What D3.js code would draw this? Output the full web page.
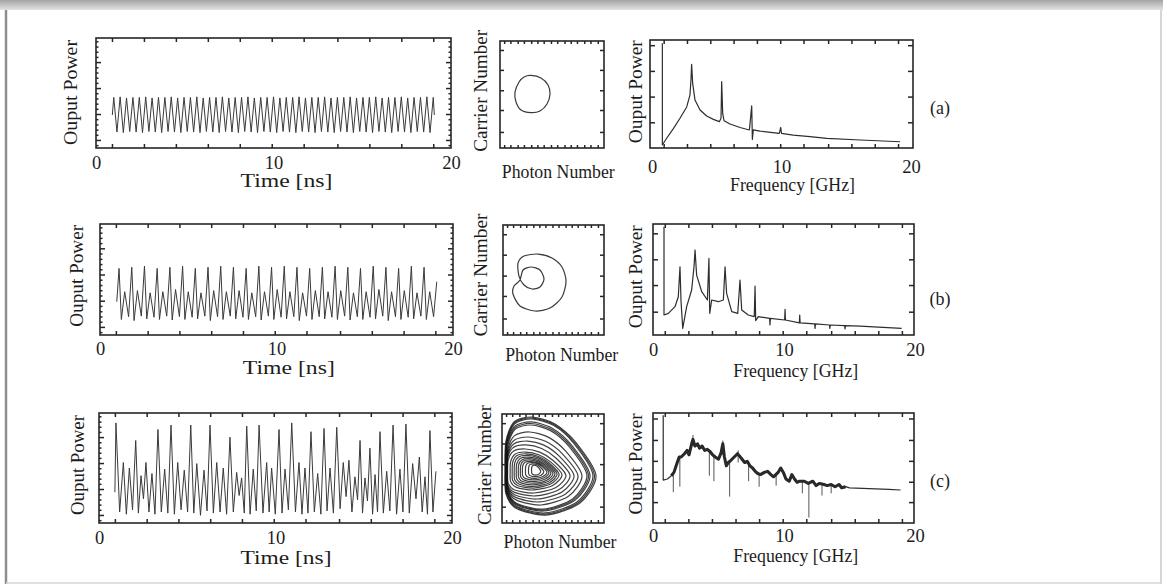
<!DOCTYPE html>
<html><head><meta charset="utf-8">
<script src="https://cdn.jsdelivr.net/npm/d3@7"></script>
<style>
body{margin:0;background:#fff;}
svg{display:block;}
text{font-family:"Liberation Serif","Times New Roman",serif;fill:#1c1c1c;}
</style>
</head><body>
<svg id="c" width="1163" height="587"></svg>
<script>
// ---------------- DATA ----------------
// axis ticks / labels
const timeTicks = [0.9,2.7,4.5,6.3,8.1,9.9,11.7,13.6,15.4,17.2,19.0];
const axisLabels = [0,10,20];
const powerMajor = [0.073,0.309,0.545,0.781];
const powerMinor = [0.026,0.120,0.167,0.214,0.262,0.356,0.403,0.450,0.498,0.592,0.639,0.686,0.734,0.828,0.875,0.922,0.970];
const phaseXTicks = [0.04,0.10,0.17,0.23,0.30,0.36,0.42,0.49,0.55,0.62,0.68,0.74,0.81,0.87,0.94];
const phaseYTicks = [0.15,0.355,0.54,0.73,0.916];
const specYTicksA = [0.238,0.476,0.714,0.952];
const specYTicksB = [0.21,0.45,0.682,0.916];
const specYTicksC = [0.19,0.375,0.565,0.755,0.95];
const rowTags = ["(a)","(b)","(c)"];

// (a) time trace: period-1 oscillation
const aT = [0.92,1.00,1.18,1.36,1.54,1.72,1.90,2.08,2.26,2.44,2.62,2.80,2.98,3.16,3.34,3.52,3.70,3.88,4.06,4.24,4.42,4.60,4.78,4.96,5.14,5.32,5.50,5.68,5.86,6.04,6.22,6.40,6.58,6.76,6.94,7.12,7.30,7.48,7.66,7.84,8.02,8.20,8.38,8.56,8.74,8.92,9.10,9.28,9.46,9.64,9.82,10.00,10.18,10.36,10.54,10.72,10.90,11.08,11.26,11.44,11.62,11.80,11.98,12.16,12.34,12.52,12.70,12.88,13.06,13.24,13.42,13.60,13.78,13.96,14.14,14.32,14.50,14.68,14.86,15.04,15.22,15.40,15.58,15.76,15.94,16.12,16.30,16.48,16.66,16.84,17.02,17.20,17.38,17.56,17.74,17.92,18.10,18.28,18.46,18.64,18.82,19.00,19.06];
const aV = [0.30,
 0.46,0.145,0.465,0.14,0.455,0.15,0.46,0.145,0.46,0.14,
 0.465,0.15,0.455,0.145,0.46,0.14,0.46,0.15,0.465,0.145,
 0.455,0.14,0.46,0.15,0.46,0.145,0.465,0.14,0.455,0.15,
 0.46,0.145,0.46,0.14,0.465,0.15,0.455,0.145,0.46,0.14,
 0.46,0.15,0.465,0.145,0.455,0.14,0.46,0.15,0.46,0.145,
 0.465,0.14,0.455,0.15,0.46,0.145,0.46,0.14,0.465,0.15,
 0.455,0.145,0.46,0.14,0.46,0.15,0.465,0.145,0.455,0.14,
 0.46,0.15,0.46,0.145,0.465,0.14,0.455,0.15,0.46,0.145,
 0.46,0.14,0.465,0.15,0.455,0.145,0.46,0.14,0.46,0.15,
 0.465,0.145,0.455,0.14,0.46,0.15,0.46,0.145,0.465,0.14,
 0.46, 0.30];

// (b) time trace: period-2
const bPeakT = [1.08,1.80,2.52,3.24,3.96,4.68,5.40,6.12,6.84,7.56,8.28,9.00,9.72,10.44,11.16,11.88,12.60,13.32,14.04,14.76,15.48,16.20,16.92,17.64,18.36,19.08];
const bPeakV = [0.60,0.61,0.62,0.60,0.61,0.62,0.60,0.61,0.62,0.61,0.60,0.62,0.61,0.62,0.61,0.60,0.61,0.62,0.61,0.60,0.62,0.61,0.60,0.62,0.61,0.48];
const bMidT = [0.95,1.40,2.12,2.84,3.56,4.28,5.00,5.72,6.44,7.16,7.88,8.60,9.32,10.04,10.76,11.48,12.20,12.92,13.64,14.36,15.08,15.80,16.52,17.24,17.96,18.68];
const bMidV = [0.30,0.39,0.40,0.38,0.39,0.41,0.39,0.38,0.40,0.39,0.40,0.38,0.39,0.41,0.39,0.38,0.40,0.39,0.40,0.38,0.39,0.41,0.39,0.40,0.38,0.39];
const bLowT = [1.21,1.62,1.93,2.34,2.65,3.06,3.37,3.78,4.09,4.50,4.81,5.22,5.53,5.94,6.25,6.66,6.97,7.38,7.69,8.10,8.41,8.82,9.13,9.54,9.85,10.26,10.57,10.98,11.29,11.70,12.01,12.42,12.73,13.14,13.45,13.86,14.17,14.58,14.89,15.30,15.61,16.02,16.33,16.74,17.05,17.46,17.77,18.18,18.49,18.90];
const bLowV = [0.14,0.165,0.13,0.17,0.145,0.16,0.14,0.17,0.135,0.165,
 0.14,0.16,0.145,0.17,0.13,0.165,0.14,0.17,0.145,0.16,
 0.14,0.165,0.135,0.17,0.14,0.16,0.145,0.165,0.13,0.17,
 0.14,0.165,0.145,0.16,0.14,0.17,0.135,0.165,0.14,0.16,
 0.145,0.17,0.13,0.165,0.14,0.16,0.145,0.17,0.14,0.165];

// (c) time trace: chaotic pulsing
const cPeakT = [0.96,1.38,1.72,2.08,2.38,2.66,3.00,3.34,3.72,4.08,4.46,4.83,5.20,5.54,5.95,6.29,6.67,7.04,7.42,7.80,8.08,8.37,8.74,9.07,9.50,9.78,10.20,10.54,10.92,11.33,11.67,12.01,12.39,12.75,13.09,13.47,13.84,14.16,14.50,14.79,15.07,15.35,15.64,15.92,16.30,16.66,17.05,17.39,17.77,18.15,18.47,18.75,19.09];
const cPeakV = [0.91,0.55,0.50,0.75,0.43,0.55,0.45,0.85,0.49,0.89,0.55,0.48,0.89,0.54,0.48,0.89,0.55,0.50,0.78,0.46,0.41,0.88,0.49,0.89,0.55,0.50,0.85,0.49,0.91,0.55,0.50,0.83,0.45,0.86,0.50,0.87,0.55,0.57,0.42,0.75,0.41,0.68,0.44,0.83,0.47,0.89,0.49,0.90,0.54,0.60,0.42,0.84,0.47];
const cLowT = [0.90,1.17,1.55,1.90,2.23,2.52,2.83,3.17,3.53,3.90,4.27,4.65,5.02,5.37,5.75,6.12,6.48,6.86,7.23,7.61,7.94,8.23,8.56,8.91,9.29,9.64,9.99,10.37,10.73,11.13,11.50,11.84,12.20,12.57,12.92,13.28,13.66,14.00,14.33,14.65,14.93,15.21,15.50,15.78,16.11,16.48,16.86,17.22,17.58,17.96,18.31,18.61,18.92];
const cLowV = [0.28,0.10,0.08,0.12,0.09,0.22,0.10,0.08,0.10,0.09,0.08,
 0.12,0.10,0.09,0.07,0.11,0.09,0.10,0.08,0.10,0.25,
 0.09,0.08,0.11,0.09,0.10,0.08,0.09,0.12,0.10,0.08,
 0.09,0.10,0.08,0.11,0.09,0.13,0.24,0.10,0.21,0.09,
 0.20,0.08,0.10,0.09,0.11,0.08,0.10,0.09,0.22,0.10,
 0.08,0.10];

// phase portraits (photon, carrier), normalised
const phAx = [0.298,0.394,0.462,0.481,0.452,0.385,0.298,0.202,0.154,0.144,0.183,0.231];
const phAy = [0.678,0.654,0.589,0.505,0.411,0.346,0.330,0.355,0.430,0.523,0.617,0.664];
const phBx = [0.168,0.198,0.277,0.366,0.406,0.366,0.287,0.208,0.158,0.149,0.208,0.347,0.485,0.584,0.624,0.584,0.465,0.317,0.168,0.099,0.109];
const phBy = [0.500,0.591,0.618,0.591,0.509,0.436,0.418,0.455,0.536,0.655,0.718,0.736,0.700,0.618,0.491,0.345,0.245,0.218,0.264,0.373,0.445];
// (c) attractor: extents of successive loops (left, right, top, bottom)
const loopL = [0.029,0.034,0.039,0.039,0.044,0.049,0.049,0.049,0.049,0.049,0.055,0.080,0.100,0.120,0.140,0.160,0.180,0.200,0.230,0.260,0.290];
const loopR = [0.922,0.907,0.892,0.863,0.848,0.833,0.784,0.745,0.706,0.667,0.627,0.588,0.560,0.540,0.520,0.500,0.480,0.460,0.440,0.410,0.380];
const loopT = [0.972,0.963,0.954,0.927,0.913,0.899,0.835,0.789,0.752,0.716,0.679,0.651,0.635,0.620,0.605,0.590,0.578,0.566,0.555,0.542,0.530];
const loopB = [0.073,0.082,0.092,0.110,0.119,0.128,0.165,0.193,0.220,0.248,0.275,0.303,0.320,0.335,0.350,0.365,0.380,0.395,0.410,0.425,0.440];

// spectra (frequency GHz, normalised power)
const sAF = [0.80,0.80,1.13,1.65,2.16,2.68,2.93,3.01,3.06,3.14,3.32,3.71,4.22,4.74,5.20,5.33,5.38,5.46,5.56,6.02,6.80,7.52,7.70,7.75,7.82,8.34,9.83,9.94,10.00,10.90,12.20,13.50,16.10,19.15];
const sAP = [0.97,0.028,0.09,0.18,0.275,0.38,0.49,0.63,0.775,0.60,0.444,0.352,0.296,0.265,0.244,0.275,0.614,0.32,0.253,0.222,0.19,0.167,0.39,0.08,0.167,0.157,0.136,0.19,0.136,0.12,0.105,0.09,0.074,0.058];
const sBF = [0.84,0.84,1.17,1.68,1.93,2.06,2.14,2.27,2.57,2.95,3.13,3.21,3.33,3.72,4.15,4.27,4.33,4.48,4.99,5.37,5.50,5.62,6.01,6.47,6.64,6.77,7.27,7.73,7.79,7.84,8.04,8.90,8.93,8.96,10.05,10.08,10.11,11.17,11.20,11.23,12.34,12.37,12.40,13.47,13.50,13.53,14.63,14.66,14.69,15.80,18.98];
const sBP = [0.976,0.18,0.195,0.255,0.345,0.615,0.30,0.06,0.255,0.405,0.615,0.766,0.54,0.39,0.315,0.69,0.195,0.315,0.30,0.315,0.615,0.375,0.21,0.195,0.495,0.225,0.18,0.165,0.44,0.13,0.165,0.15,0.09,0.15,0.135,0.23,0.135,0.11,0.18,0.11,0.10,0.06,0.10,0.09,0.06,0.09,0.085,0.055,0.085,0.08,0.06];
const sCF = [0.78,0.78,1.10,1.40,1.60,1.85,2.00,2.15,2.40,2.60,2.75,2.95,3.05,3.20,3.40,3.55,3.75,3.95,4.15,4.35,4.55,4.75,5.00,5.20,5.33,5.45,5.60,5.75,5.95,6.20,6.45,6.60,6.80,7.00,7.20,7.40,7.60,7.80,8.00,8.20,8.50,8.75,9.00,9.20,9.55,9.75,9.95,10.15,10.40,10.60,10.80,11.00,11.20,11.55,11.85,12.20,12.45,12.70,13.05,13.30,13.60,13.90,14.20,14.40,14.70,15.00,16.00,17.00,18.00,18.90];
const sCP = [0.98,0.39,0.40,0.43,0.46,0.55,0.60,0.60,0.63,0.66,0.62,0.72,0.76,0.70,0.72,0.68,0.70,0.66,0.67,0.65,0.62,0.60,0.58,0.64,0.72,0.60,0.52,0.55,0.57,0.60,0.63,0.61,0.58,0.55,0.56,0.52,0.50,0.47,0.45,0.44,0.46,0.47,0.44,0.42,0.46,0.50,0.46,0.40,0.38,0.44,0.40,0.37,0.38,0.38,0.36,0.38,0.34,0.36,0.35,0.34,0.35,0.33,0.35,0.32,0.33,0.32,0.315,0.31,0.305,0.30];
const cSpikeF = [1.55,2.05,3.05,4.30,4.65,5.33,5.85,6.50,7.30,8.10,9.40,11.40,11.90,12.90,13.60];
const cSpikeTop = [0.45,0.60,0.80,0.66,0.62,0.75,0.55,0.66,0.56,0.45,0.44,0.38,0.36,0.36,0.35];
const cSpikeBot = [0.28,0.33,0.70,0.43,0.38,0.62,0.24,0.55,0.38,0.33,0.34,0.27,0.05,0.25,0.27];

// ---------------- LAYOUT ----------------
const rows = [
 {time:{x0:96,x1:451,y0:38,y1:148}, phase:{x0:500,x1:604,y0:41,y1:148}, spec:{x0:650,x1:913,y0:40,y1:148,f0:652,f1:911},
  lab:{tY:[70,92.5,105], tTick:169, tX:[286.5,187,92], cN:[480.7,90.8,122], pN:[558.3,178,113], sY:[635,91.7,103], sTick:173, fX:[792.5,191,125], tag:[940,114]}},
 {time:{x0:100,x1:453,y0:224,y1:335}, phase:{x0:503,x1:604,y0:225,y1:335}, spec:{x0:653,x1:914,y0:224,y1:335,f0:653,f1:915},
  lab:{tY:[76.7,275.8,102], tTick:355, tX:[288.8,374,92], cN:[480.7,275,123], pN:[561.7,361,113], sY:[635.7,276.7,103], sTick:356, fX:[795.8,377,125], tag:[940,305]}},
 {time:{x0:99,x1:452,y0:413,y1:523}, phase:{x0:502,x1:604,y0:414,y1:523}, spec:{x0:653,x1:914,y0:413,y1:523,f0:653,f1:915},
  lab:{tY:[77.3,465,100], tTick:544, tX:[286,564,91], cN:[484,465,120], pN:[560,548,113], sY:[635,464,101], sTick:542, fX:[795.8,562,125], tag:[940,487]}}
];

const zip = (a,b) => a.map((d,i) => [d,b[i]]);
const tsData = [
 zip(aT,aV),
 zip(bPeakT.concat(bMidT,bLowT), bPeakV.concat(bMidV,bLowV)).sort((p,q)=>p[0]-q[0]),
 zip(cPeakT.concat(cLowT), cPeakV.concat(cLowV)).sort((p,q)=>p[0]-q[0])
];
const specData = [zip(sAF,sAP), zip(sBF,sBP), zip(sCF,sCP)];
const specYT = [specYTicksA, specYTicksB, specYTicksC];

const svg = d3.select('#c');
const ink = '#262626';

// --- page frame ---
const defs = svg.append('defs');
const gr = defs.append('linearGradient').attr('id','topbar').attr('x1',0).attr('x2',0).attr('y1',0).attr('y2',1);
gr.append('stop').attr('offset','0%').attr('stop-color','#a4a4a4');
gr.append('stop').attr('offset','100%').attr('stop-color','#e2e2e2');
svg.append('rect').attr('x',0).attr('y',0).attr('width',1163).attr('height',10).attr('fill','url(#topbar)');
svg.append('line').attr('x1',6).attr('x2',6).attr('y1',10).attr('y2',584).attr('stroke','#8e8e8e').attr('stroke-width',2.5);
svg.append('line').attr('x1',1161).attr('x2',1161).attr('y1',10).attr('y2',584).attr('stroke','#c8c8c8').attr('stroke-width',1.5);
svg.append('line').attr('x1',6).attr('x2',1161).attr('y1',583).attr('y2',583).attr('stroke','#d6d6d6').attr('stroke-width',1.5);

function frame(b){
  svg.append('rect').attr('x',b.x0).attr('y',b.y0).attr('width',b.x1-b.x0).attr('height',b.y1-b.y0)
    .attr('fill','none').attr('stroke',ink).attr('stroke-width',1.6);
}
function tickAxis(axis, tx, ty){
  const g = svg.append('g').attr('transform',`translate(${tx},${ty})`).call(axis);
  g.select('.domain').remove();
  g.selectAll('line').attr('stroke',ink).attr('stroke-width',1.5);
  return g;
}
function labelAxis(x, vals, baseY){
  const g = svg.append('g').attr('transform',`translate(0,${baseY})`)
    .call(d3.axisBottom(x).tickValues(vals).tickSize(0).tickPadding(0).tickFormat(d3.format('d')));
  g.select('.domain').remove();
  g.selectAll('line').remove();
  g.attr('font-size',null).attr('font-family',null);
  g.selectAll('text').attr('y',0).attr('dy',null).attr('fill','#1c1c1c').style('font-size','18.5px');
}
function vText(s, p){
  svg.append('text').attr('transform',`translate(${p[0]},${p[1]}) rotate(-90)`)
    .attr('text-anchor','middle').attr('dy','0.35em').style('font-size','19px')
    .attr('textLength',p[2]).attr('lengthAdjust','spacingAndGlyphs').text(s);
}
function hText(s, p){
  svg.append('text').attr('x',p[0]).attr('y',p[1]).attr('text-anchor','middle').style('font-size','18.5px')
    .attr('textLength',p[2]).attr('lengthAdjust','spacingAndGlyphs').text(s);
}

rows.forEach((r,i) => {
  // ---- time panel ----
  const tb = r.time;
  const tx = d3.scaleLinear([0,20],[tb.x0,tb.x1]);
  const ty = d3.scaleLinear([0,1],[tb.y1,tb.y0]);
  svg.append('path').datum(tsData[i])
    .attr('d', d3.line().x(d=>tx(d[0])).y(d=>ty(d[1])))
    .attr('fill','none').attr('stroke','#3a3a3a').attr('stroke-width',1).attr('stroke-linejoin','round');
  frame(tb);
  tickAxis(d3.axisBottom(tx).tickValues(timeTicks).tickSize(-4).tickFormat(''),0,tb.y1);
  tickAxis(d3.axisTop(tx).tickValues(timeTicks).tickSize(-4).tickFormat(''),0,tb.y0);
  tickAxis(d3.axisLeft(ty).tickValues(powerMajor).tickSize(-5).tickFormat(''),tb.x0,0);
  tickAxis(d3.axisLeft(ty).tickValues(powerMinor).tickSize(-2.5).tickFormat(''),tb.x0,0);
  tickAxis(d3.axisRight(ty).tickValues(powerMajor).tickSize(-5).tickFormat(''),tb.x1,0);
  tickAxis(d3.axisRight(ty).tickValues(powerMinor).tickSize(-2.5).tickFormat(''),tb.x1,0);
  labelAxis(tx, axisLabels, r.lab.tTick);
  vText('Ouput Power', r.lab.tY);
  hText('Time [ns]', r.lab.tX);

  // ---- phase panel ----
  const pb = r.phase;
  const px = d3.scaleLinear([0,1],[pb.x0,pb.x1]);
  const py = d3.scaleLinear([0,1],[pb.y1,pb.y0]);
  const loopLine = d3.line().x(d=>px(d[0])).y(d=>py(d[1])).curve(d3.curveCardinalClosed.tension(0.2));
  if (i===0 || i===1){
    const pts = i===0 ? zip(phAx,phAy) : zip(phBx,phBy);
    svg.append('path').datum(pts).attr('d',loopLine)
      .attr('fill','none').attr('stroke','#3a3a3a').attr('stroke-width',1.2);
  } else {
    loopL.forEach((L,k) => {
      const R = loopR[k], T = loopT[k], B = loopB[k], w = R-L, h = T-B;
      const shape = [[L,B+0.45*h],[L+0.01*w,B+0.75*h],[L+0.10*w,B+0.95*h],[L+0.30*w,T],[L+0.55*w,B+0.93*h],
        [L+0.78*w,B+0.74*h],[R,B+0.40*h],[L+0.82*w,B+0.12*h],[L+0.45*w,B],[L+0.12*w,B+0.07*h],[L+0.01*w,B+0.22*h]];
      svg.append('path').datum(shape).attr('d',loopLine)
        .attr('fill','none').attr('stroke','#111').attr('stroke-width',1.2).attr('stroke-opacity',0.8);
    });
  }
  frame(pb);
  tickAxis(d3.axisBottom(px).tickValues(phaseXTicks).tickSize(-3).tickFormat(''),0,pb.y1);
  tickAxis(d3.axisTop(px).tickValues(phaseXTicks).tickSize(-3).tickFormat(''),0,pb.y0);
  tickAxis(d3.axisLeft(py).tickValues(phaseYTicks).tickSize(-4).tickFormat(''),pb.x0,0);
  tickAxis(d3.axisRight(py).tickValues(phaseYTicks).tickSize(-4).tickFormat(''),pb.x1,0);
  vText('Carrier Number', r.lab.cN);
  hText('Photon Number', r.lab.pN);

  // ---- spectrum panel ----
  const sb = r.spec;
  const sx = d3.scaleLinear([0,20],[sb.f0,sb.f1]);
  const sy = d3.scaleLinear([0,1],[sb.y1,sb.y0]);
  const sLine = d3.line().x(d=>sx(d[0])).y(d=>sy(d[1]));
  if (i===2){
    cSpikeF.forEach((f,k) => {
      svg.append('line').attr('x1',sx(f)).attr('x2',sx(f)).attr('y1',sy(cSpikeTop[k])).attr('y2',sy(cSpikeBot[k]))
        .attr('stroke','#555').attr('stroke-width',1);
    });
    svg.append('path').datum(specData[i].filter(d=>d[0]>=1.4 && d[0]<=14.8)).attr('d',sLine)
      .attr('fill','none').attr('stroke','#222').attr('stroke-width',3).attr('stroke-linejoin','round');
  }
  svg.append('path').datum(specData[i]).attr('d',sLine)
    .attr('fill','none').attr('stroke','#2e2e2e').attr('stroke-width',1.2).attr('stroke-linejoin','round');
  frame(sb);
  tickAxis(d3.axisBottom(sx).tickValues(timeTicks).tickSize(-4).tickFormat(''),0,sb.y1);
  tickAxis(d3.axisTop(sx).tickValues(timeTicks).tickSize(-4).tickFormat(''),0,sb.y0);
  tickAxis(d3.axisLeft(sy).tickValues(specYT[i]).tickSize(-5).tickFormat(''),sb.x0,0);
  tickAxis(d3.axisRight(sy).tickValues(specYT[i]).tickSize(-5).tickFormat(''),sb.x1,0);
  labelAxis(sx, axisLabels, r.lab.sTick);
  vText('Ouput Power', r.lab.sY);
  hText('Frequency [GHz]', r.lab.fX);

  svg.append('text').attr('x',r.lab.tag[0]).attr('y',r.lab.tag[1]).attr('text-anchor','middle')
    .style('font-size','18px').text(rowTags[i]);
});
</script>
</body></html>
